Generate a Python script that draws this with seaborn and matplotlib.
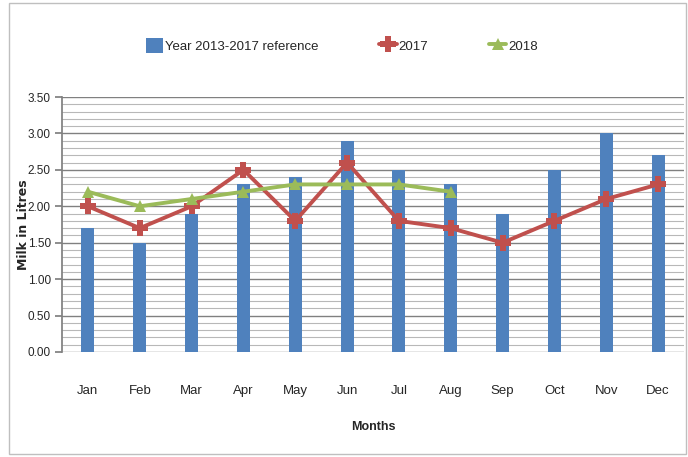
import matplotlib
matplotlib.use("Agg")
import matplotlib.pyplot as plt
import seaborn as sns
import pandas as pd
import numpy as np
from matplotlib.patches import Rectangle
from matplotlib.ticker import MultipleLocator

months = ["Jan", "Feb", "Mar", "Apr", "May", "Jun", "Jul", "Aug", "Sep", "Oct", "Nov", "Dec"]
ref_values = [1.7, 1.5, 1.9, 2.3, 2.4, 2.9, 2.5, 2.3, 1.9, 2.5, 3.0, 2.7]
y2017 = [2.0, 1.7, 2.0, 2.5, 1.8, 2.6, 1.8, 1.7, 1.5, 1.8, 2.1, 2.3]
y2018 = [2.2, 2.0, 2.1, 2.2, 2.3, 2.3, 2.3, 2.2]
ytick_labels = ["0.00", "0.50", "1.00", "1.50", "2.00", "2.50", "3.00", "3.50"]

sns.set_theme(style="white")
plt.rcParams['font.family'] = ['Liberation Sans', 'DejaVu Sans']

fig = plt.figure(figsize=(6.88, 4.57), dpi=100)
ax = fig.add_axes([62/688, 1-352/457, (684-62)/688, (352-97)/457])

df_bar = pd.DataFrame({"Month": months, "Value": ref_values})
sns.barplot(data=df_bar, x="Month", y="Value", color="#4F81BD", width=0.25,
            saturation=1, linewidth=0, ax=ax, label="Year 2013-2017 reference", zorder=3)

x17 = np.arange(len(y2017))
x18 = np.arange(len(y2018))
sns.lineplot(x=x17, y=y2017, color="#C0504D", linewidth=2.8, marker="P", markersize=11,
             markeredgewidth=0, ax=ax, label="2017", zorder=4)
sns.lineplot(x=x18, y=y2018, color="#9BBB59", linewidth=2.8, marker="^", markersize=9,
             markeredgewidth=0, ax=ax, label="2018", zorder=5)

ax.set_xlim(-0.5, 11.5)
ax.set_ylim(0, 3.5)
ax.set_yticks(np.arange(0, 3.51, 0.5))
ax.set_yticklabels(ytick_labels, fontsize=8.5)
ax.yaxis.set_minor_locator(MultipleLocator(0.1))
ax.grid(axis="y", which="major", color="#808080", linewidth=1.0, zorder=0)
ax.grid(axis="y", which="minor", color="#B8B8B8", linewidth=0.8, zorder=0)
ax.set_axisbelow(True)
ax.set_xticks(range(12))
ax.set_xticklabels(months, fontsize=9.5)
ax.tick_params(axis="x", pad=24, length=0)
ax.tick_params(axis="y", which="major", length=5, direction="out", color="#808080", left=True, pad=3)
ax.tick_params(axis="y", which="minor", length=0)
for s in ["top", "right", "bottom"]:
    ax.spines[s].set_visible(False)
ax.spines["left"].set_color("#808080")
ax.set_xlabel("Months", fontsize=9, fontweight="bold")
ax.xaxis.set_label_coords(0.5, -0.27)
ax.set_ylabel("Milk in Litres", fontsize=9, fontweight="bold", family=["DejaVu Sans"])
ax.yaxis.set_label_coords(-0.052, 0.5)

if ax.legend_:
    ax.legend_.remove()
h, l = ax.get_legend_handles_labels()
order = [l.index("Year 2013-2017 reference"), l.index("2017"), l.index("2018")]
fig.legend([h[i] for i in order], [l[i] for i in order], loc="center",
           bbox_to_anchor=(0.497, 0.9), ncol=3, frameon=False,
           fontsize=9.5, columnspacing=4.6, handlelength=1.3, handleheight=1.4,
           handletextpad=0.15)

fig.patches.append(Rectangle((9/688, 3/457), (686-9)/688, (457-6)/457, transform=fig.transFigure,
                             fill=False, edgecolor="#BFBFBF", linewidth=1))

fig.savefig("out.png", dpi=100)
